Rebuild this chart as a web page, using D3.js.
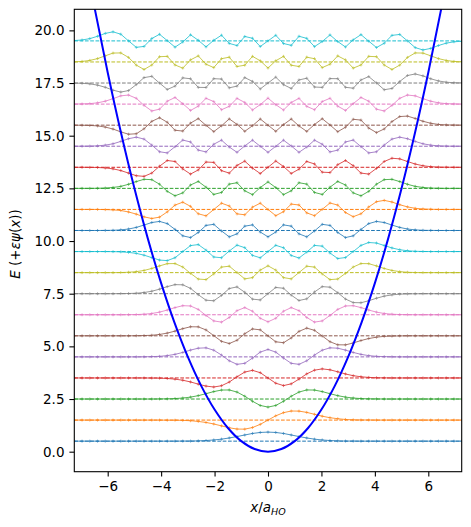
<!DOCTYPE html>
<html><head><meta charset="utf-8">
<script src="https://cdn.jsdelivr.net/npm/d3@7"></script>
<style>body{margin:0;background:#fff;} text{font-family:"DejaVu Sans";}</style>
</head><body><svg id="c" width="471" height="527"></svg>
<script>
// grid positions (x / a_HO)
const xGrid = [-7.25,-6.96,-6.67,-6.38,-6.09,-5.8,-5.51,-5.22,-4.93,-4.64,-4.35,-4.06,-3.77,-3.48,-3.19,-2.9,-2.61,-2.32,-2.03,-1.74,-1.45,-1.16,-0.87,-0.58,-0.29,0,0.29,0.58,0.87,1.16,1.45,1.74,2.03,2.32,2.61,2.9,3.19,3.48,3.77,4.06,4.35,4.64,4.93,5.22,5.51,5.8,6.09,6.38,6.67,6.96,7.25];
// energy levels E_n
const energies = [0.5,1.5,2.5,3.5,4.5,5.5,6.5,7.5,8.5,9.5,10.5,11.5,12.5,13.5,14.5,15.5,16.5,17.5,18.5,19.5];
// wavefunctions (percent of each curve's peak amplitude)
const psi0 = [0,0,0,0,0,0,0,0,0,0,0,0,0,0,1,1,3,7,13,22,35,51,68,85,96,100,96,85,68,51,35,22,13,7,3,1,1,0,0,0,0,0,0,0,0,0,0,0,0,0,0];
const psi1 = [0,0,0,0,0,0,0,0,0,0,0,0,-1,-1,-3,-7,-15,-26,-43,-64,-85,-99,-100,-82,-47,0,47,82,100,99,85,64,43,26,15,7,3,1,1,0,0,0,0,0,0,0,0,0,0,0,0];
const psi2 = [0,0,0,0,0,0,0,0,0,0,0,1,2,5,11,21,37,59,82,99,100,77,31,-25,-71,-89,-71,-25,31,77,100,99,82,59,37,21,11,5,2,1,0,0,0,0,0,0,0,0,0,0,0];
const psi3 = [0,0,0,0,0,0,0,0,0,0,-1,-2,-6,-13,-25,-44,-68,-90,-100,-86,-45,13,65,84,58,0,-58,-84,-65,-13,45,86,100,90,68,44,25,13,6,2,1,0,0,0,0,0,0,0,0,0,0];
const psi4 = [0,0,0,0,0,0,0,0,0,1,3,6,14,28,49,75,96,100,74,20,-43,-82,-71,-13,53,82,53,-13,-71,-82,-43,20,74,100,96,75,49,28,14,6,3,1,0,0,0,0,0,0,0,0,0];
const psi5 = [0,0,0,0,0,0,0,0,1,3,6,15,30,52,79,100,99,65,2,-61,-85,-49,23,76,66,0,-66,-76,-23,49,85,61,-2,-65,-99,-100,-79,-52,-30,-15,-6,-3,-1,0,0,0,0,0,0,0,0];
const psi6 = [0,0,0,0,0,0,0,1,2,6,14,29,52,79,100,97,59,-8,-68,-81,-30,45,79,39,-39,-78,-39,39,79,45,-30,-81,-68,-8,59,97,100,79,52,29,14,6,2,1,0,0,0,0,0,0,0];
const psi7 = [0,0,0,0,0,0,1,2,5,13,27,50,78,100,98,59,-11,-72,-78,-19,57,75,16,-60,-69,0,69,60,-16,-75,-57,19,78,72,11,-59,-98,-100,-78,-50,-27,-13,-5,-2,-1,0,0,0,0,0,0];
const psi8 = [0,0,0,0,0,0,1,4,11,24,46,74,99,100,62,-8,-71,-77,-14,61,71,1,-69,-55,28,75,28,-55,-69,1,71,61,-14,-77,-71,-8,62,100,99,74,46,24,11,4,1,0,0,0,0,0,0];
const psi9 = [0,0,0,0,0,-1,-3,-9,-20,-40,-67,-94,-100,-68,0,66,77,16,-60,-68,6,71,43,-42,-69,0,69,42,-43,-71,-6,68,60,-16,-77,-66,0,68,100,94,67,40,20,9,3,1,0,0,0,0,0];
const psi10 = [0,0,0,0,1,2,7,16,34,60,88,100,76,12,-59,-78,-22,56,68,-5,-70,-37,48,62,-17,-70,-17,62,48,-37,-70,-5,68,56,-22,-78,-59,12,76,100,88,60,34,16,7,2,1,0,0,0,0];
const psi11 = [0,0,0,0,-2,-5,-12,-28,-52,-82,-100,-85,-27,48,80,34,-48,-71,-1,69,38,-49,-59,25,69,0,-69,-25,59,49,-38,-69,1,71,48,-34,-80,-48,27,85,100,82,52,28,12,5,2,0,0,0,0];
const psi12 = [0,0,0,1,3,10,22,45,75,100,96,46,-33,-82,-50,37,76,13,-67,-45,47,62,-27,-69,9,71,9,-69,-27,62,47,-45,-67,13,76,37,-50,-82,-33,46,96,100,75,45,22,10,3,1,0,0,0];
const psi13 = [0,0,-1,-2,-7,-17,-36,-64,-93,-100,-64,12,75,64,-18,-75,-29,58,54,-37,-64,21,68,-9,-69,0,69,9,-68,-21,64,37,-54,-58,29,75,18,-64,-75,-12,64,100,93,64,36,17,7,2,1,0,0];
const psi14 = [0,0,1,4,12,27,53,83,100,79,13,-61,-74,-5,68,47,-43,-63,22,67,-9,-67,3,67,-1,-67,-1,67,3,-67,-9,67,22,-63,-43,47,68,-5,-74,-61,13,79,100,83,53,27,12,4,1,0,0];
const psi15 = [0,-1,-3,-8,-21,-43,-74,-100,-95,-40,42,82,32,-56,-65,23,72,-2,-71,-7,69,9,-68,-6,68,0,-68,6,68,-9,-69,7,71,2,-72,-23,65,56,-32,-82,-42,40,95,100,74,43,21,8,3,1,0];
const psi16 = [0,2,5,14,32,60,91,100,64,-14,-76,-56,32,73,5,-70,-23,64,28,-62,-25,63,18,-65,-6,66,-6,-65,18,63,-25,-62,28,64,-23,-70,5,73,32,-56,-76,-14,64,100,91,60,32,14,5,2,0];
const psi17 = [-1,-3,-9,-23,-47,-79,-100,-83,-17,60,74,-1,-71,-34,57,47,-48,-49,48,44,-53,-34,60,18,-65,0,65,-18,-60,34,53,-44,-48,49,48,-47,-57,34,71,1,-74,-60,17,83,100,79,47,23,9,3,1];
const psi18 = [2,6,17,37,68,98,100,50,-35,-83,-34,58,62,-33,-68,23,67,-25,-62,36,53,-50,-36,62,13,-67,13,62,-36,-50,53,36,-62,-25,67,23,-68,-33,62,58,-34,-83,-35,50,100,98,68,37,17,6,2];
const psi19 = [4,10,25,51,83,100,74,0,-71,-61,26,73,3,-69,-12,67,7,-66,7,63,-28,-51,49,29,-62,0,62,-29,-49,51,28,-63,-7,66,-7,-67,12,69,-3,-73,-26,61,71,0,-74,-100,-83,-51,-25,-10,-4];
// harmonic potential V(x)
const potX = [-7,-6.5,-6,-5.5,-5,-4.5,-4,-3.5,-3,-2.5,-2,-1.5,-1,-0.5,0,0.5,1,1.5,2,2.5,3,3.5,4,4.5,5,5.5,6,6.5,7];
const potV = [24.5,21.125,18,15.125,12.5,10.125,8,6.125,4.5,3.125,2,1.125,0.5,0.125,0,0.125,0.5,1.125,2,3.125,4.5,6.125,8,10.125,12.5,15.125,18,21.125,24.5];
const xTicks = [-6,-4,-2,0,2,4,6];
const yTicks = [0,2.5,5,7.5,10,12.5,15,17.5,20];

const waves = [psi0,psi1,psi2,psi3,psi4,psi5,psi6,psi7,psi8,psi9,psi10,psi11,psi12,psi13,psi14,psi15,psi16,psi17,psi18,psi19];
const eps = 0.43/100;
const colors=["#1f77b4","#ff7f0e","#2ca02c","#d62728","#9467bd","#8c564b","#e377c2","#7f7f7f","#bcbd22","#17becf"];
const svg=d3.select("#c");
const L=74.3,R=461.7,T=9.3,B=471.7;
const xS=d3.scaleLinear().domain([-7.25,7.25]).range([L,R]);
const yS=d3.scaleLinear().domain([-0.95,21]).range([B,T]);
svg.append("defs").append("clipPath").attr("id","clip").append("rect").attr("x",L).attr("y",T).attr("width",R-L).attr("height",B-T);
const g=svg.append("g").attr("clip-path","url(#clip)");
const line=d3.line().x((d,i)=>xS(xGrid[i])).y(d=>yS(d));
waves.forEach((v,n)=>{const E=energies[n],col=colors[n%10];
 g.append("line").attr("x1",L).attr("x2",R).attr("y1",yS(E)).attr("y2",yS(E)).attr("stroke",col).attr("stroke-width",1).attr("stroke-dasharray","3.7,1.6");
 const ys=v.map(t=>eps*t+E);
 g.append("path").attr("d",line(ys)).attr("fill","none").attr("stroke",col).attr("stroke-width",1).attr("opacity",0.8);
 g.append("g").selectAll("path").data(ys).join("path")
  .attr("d",(d,i)=>{const px=xS(xGrid[i]),py=yS(d);return `M${px-1.5},${py}H${px+1.5}M${px},${py-1.5}V${py+1.5}`;})
  .attr("stroke",col).attr("stroke-width",0.7).attr("opacity",0.8);
});
g.append("path").attr("d",d3.line().curve(d3.curveCatmullRom.alpha(0.5)).x((d,i)=>xS(potX[i])).y(d=>yS(d))(potV)).attr("fill","none").attr("stroke","#0000ff").attr("stroke-width",2);
const xa=svg.append("g").attr("transform",`translate(0,${B})`).call(d3.axisBottom(xS).tickValues(xTicks).tickSize(4.9).tickPadding(4.9).tickFormat(d=>d<0?"\u2212"+(-d):d));
const ya=svg.append("g").attr("transform",`translate(${L},0)`).call(d3.axisLeft(yS).tickValues(yTicks).tickSize(4.9).tickPadding(4.9).tickFormat(d3.format(".1f")));
[xa,ya].forEach(a=>{a.selectAll("text").attr("font-size",13.5).attr("fill","#000").attr("font-family","DejaVu Sans");a.select(".domain").remove();a.selectAll("line").attr("stroke","#000").attr("stroke-width",1.1);});
svg.append("rect").attr("x",L).attr("y",T).attr("width",R-L).attr("height",B-T).attr("fill","none").attr("stroke","#000").attr("stroke-width",1.1);
svg.append("text").attr("x",268).attr("y",512).attr("text-anchor","middle").attr("font-size",13.5).html('<tspan font-style="italic">x</tspan>/<tspan font-style="italic">a</tspan><tspan font-style="italic" font-size="9.5" dy="3">HO</tspan>');
svg.append("text").attr("transform","translate(20,244) rotate(-90)").attr("text-anchor","middle").attr("font-size",13.5).html('<tspan font-style="italic">E</tspan> (+<tspan font-style="italic">εψ</tspan>(<tspan font-style="italic">x</tspan>))');
</script></body></html>
